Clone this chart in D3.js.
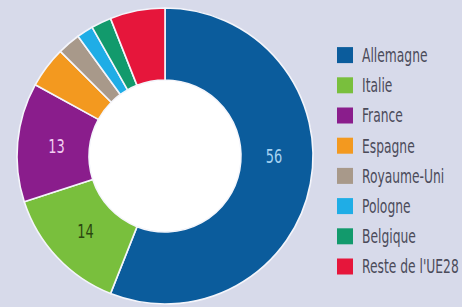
<!DOCTYPE html>
<html>
<head>
<meta charset="utf-8">
<script src="https://cdn.jsdelivr.net/npm/d3@7"></script>
<style>
  html, body { margin: 0; padding: 0; background: #d7daea; }
  svg { display: block; font-family: "DejaVu Sans Condensed", "Liberation Sans Narrow", sans-serif; }
</style>
</head>
<body>
<div id="chart"></div>
<script>
// share of total, per country (percent)
const countries = ["Allemagne", "Italie", "France", "Espagne", "Royaume-Uni", "Pologne", "Belgique", "Reste de l'UE28"];
const shares = [56, 14, 13, 4.5, 2.5, 1.8, 2.2, 6];
const shownLabels = ["56", "14", "13", null, null, null, null, null];
const colors = ["#0b5c9c", "#79bf3d", "#8a1d8c", "#f3991f", "#a8998a", "#1fade6", "#129a6c", "#e6163b"];
const labelColors = ["#a6d3f2", "#2b4710", "#f2cdf2", null, null, null, null, null];

const width = 462, height = 307;
const cx = 165, cy = 156;
const outerR = 148, innerR = 76;

const data = countries.map((c, i) => ({ name: c, value: shares[i], label: shownLabels[i], color: colors[i], labelColor: labelColors[i] }));

const svg = d3.select("#chart").append("svg")
    .attr("width", width)
    .attr("height", height);

const pie = d3.pie().sort(null).value(d => d.value);
const arc = d3.arc().innerRadius(innerR).outerRadius(outerR);
const arcs = pie(data);

const g = svg.append("g").attr("transform", `translate(${cx},${cy})`);

g.selectAll("path")
    .data(arcs)
    .join("path")
    .attr("d", arc)
    .attr("fill", d => d.data.color)
    .attr("stroke", "#f4f5fb")
    .attr("stroke-width", 1.6)
    .attr("stroke-linejoin", "round");

// white hole
g.append("circle").attr("r", innerR - 0.5).attr("fill", "#ffffff");

// value labels: centroid, except the big slice that gets put at 3 o'clock
const labelR = (innerR + outerR) / 2 - 3;
g.selectAll("text.val")
    .data(arcs.filter(d => d.data.label))
    .join("text")
    .attr("class", "val")
    .attr("transform", d => {
        let a = (d.startAngle + d.endAngle) / 2;
        if (d.startAngle < Math.PI / 2 && d.endAngle > Math.PI / 2 && d.endAngle - d.startAngle > Math.PI) a = Math.PI / 2;
        return `translate(${Math.sin(a) * labelR},${-Math.cos(a) * labelR}) scale(0.72,1)`;
    })
    .attr("text-anchor", "middle")
    .attr("dy", "0.36em")
    .attr("font-size", 20)
    .attr("fill", d => d.data.labelColor)
    .text(d => d.data.label);

// legend
const legendY = d3.scaleBand()
    .domain(countries)
    .range([40, 281.6])
    .paddingInner(0);

const legend = svg.append("g").selectAll("g")
    .data(data)
    .join("g")
    .attr("transform", d => `translate(337,${legendY(d.name) + legendY.bandwidth() / 2})`);

legend.append("rect")
    .attr("x", 0)
    .attr("y", -8)
    .attr("width", 16)
    .attr("height", 16)
    .attr("fill", d => d.color);

legend.append("text")
    .attr("transform", "translate(25,0) scale(0.72,1)")
    .attr("dy", "0.36em")
    .attr("font-size", 19)
    .attr("fill", "#4b4b5a")
    .text(d => d.name);
</script>
</body>
</html>
